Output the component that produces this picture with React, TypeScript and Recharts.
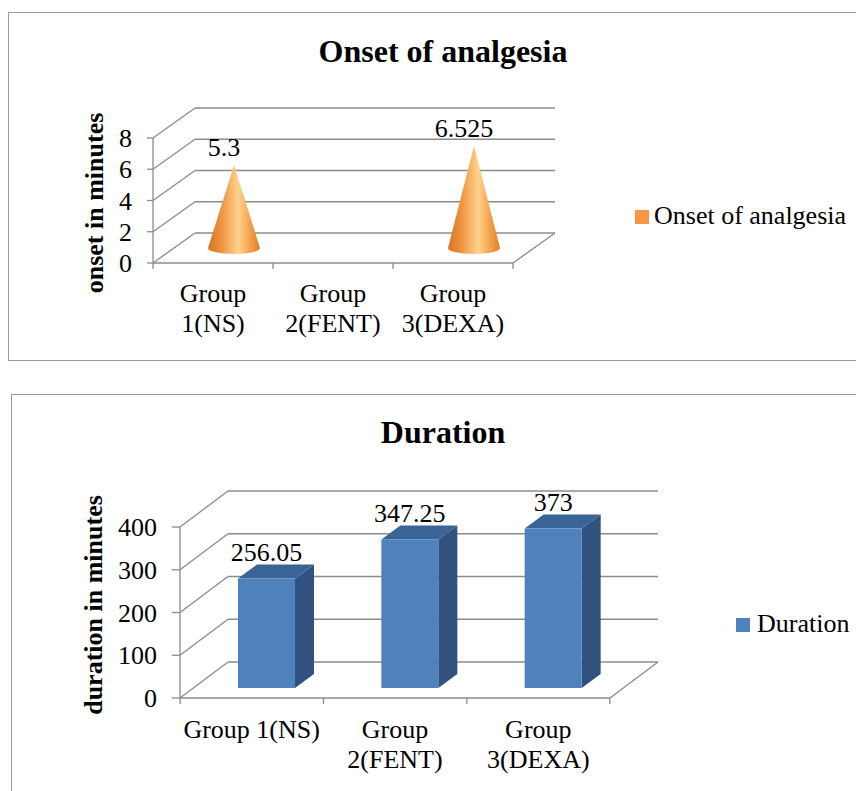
import { BarChart, Bar, XAxis, YAxis, CartesianGrid, LabelList } from 'recharts';

const groups = ['Group 1(NS)', 'Group 2(FENT)', 'Group 3(DEXA)'];
const onsetValues = [5.3, null, 6.525];
const durationValues = [256.05, 347.25, 373];
const onsetTicks = [0, 2, 4, 6, 8];
const durationTicks = [0, 100, 200, 300, 400];

const onsetData = groups.map((g, i) => ({ group: g, value: onsetValues[i] }));
const durationData = groups.map((g, i) => ({ group: g, value: durationValues[i] }));

const FONT = "'Liberation Serif', 'Times New Roman', serif";
const GRID = '#8c8c8c';

let ctx: CanvasRenderingContext2D | null = null;
function textWidth(s: string) {
  if (!ctx) ctx = document.createElement('canvas').getContext('2d');
  if (!ctx) return s.length * 12;
  ctx.font = `26px ${FONT}`;
  return ctx.measureText(s).width;
}

function wrapLabel(label: string, max: number) {
  if (textWidth(label) <= max) return [label];
  const i = label.indexOf(' ');
  return [label.slice(0, i), label.slice(i + 1)];
}

// back wall + side wall lines, drawn from the y tick positions
function wallLines(dx: number, dy: number, floorY: number) {
  return (p: any) => {
    const { x1, y1, x2, index } = p;
    return (
      <g key={`wall-${index}`}>
        <line x1={x1} y1={y1} x2={x1 + dx} y2={y1 - dy} stroke={GRID} strokeWidth={1.3} />
        <line x1={x1 + dx} y1={y1 - dy} x2={x2 + dx} y2={y1 - dy} stroke={GRID} strokeWidth={1.3} />
        {Math.abs(y1 - floorY) < 1 && (
          <line x1={x2} y1={y1} x2={x2 + dx} y2={y1 - dy} stroke={GRID} strokeWidth={1.3} />
        )}
      </g>
    );
  };
}

function CategoryTick(props: any) {
  const { x, y, payload, index, band, last, base } = props;
  const lines = wrapLabel(payload.value, band - 4);
  return (
    <g>
      <line x1={x - band / 2} y1={y} x2={x - band / 2} y2={y + 6} stroke={GRID} strokeWidth={1.3} />
      {index === last && (
        <line x1={x + band / 2} y1={y} x2={x + band / 2} y2={y + 6} stroke={GRID} strokeWidth={1.3} />
      )}
      <text textAnchor="middle" fontFamily={FONT} fontSize={26} fill="#000">
        {lines.map((l, i) => (
          <tspan key={i} x={x} y={y + base + i * 30}>{l}</tspan>
        ))}
      </text>
    </g>
  );
}

function Cone(props: any) {
  const { x, y, width, height } = props;
  if (!height || height <= 0) return null;
  const cx = x + width / 2 + 21;
  const baseY = y + height - 15;
  const apexY = y - 15;
  const rx = width / 2;
  const ry = 6;
  const d = `M${cx - rx},${baseY} L${cx},${apexY} L${cx + rx},${baseY} A${rx},${ry} 0 0 1 ${cx - rx},${baseY} Z`;
  return <path d={d} fill="url(#coneFill)" />;
}

function Box(props: any) {
  const { x, y, width, height } = props;
  if (!height || height <= 0) return null;
  const fx = x + 15;
  const fy = y - 10;
  const bx = 19;
  const by = 14;
  const side = `${fx + width},${fy} ${fx + width + bx},${fy - by} ${fx + width + bx},${fy + height - by} ${fx + width},${fy + height}`;
  const top = `${fx},${fy} ${fx + bx},${fy - by} ${fx + width + bx},${fy - by} ${fx + width},${fy}`;
  return (
    <g>
      <polygon points={side} fill="#31527F" />
      <polygon points={top} fill="#3B6496" />
      <rect x={fx} y={fy} width={width} height={height} fill="#4F81BD" />
    </g>
  );
}

function makeLabel(offX: number, offY: number) {
  return (props: any) => {
    const vb = props.viewBox ?? {};
    const x = props.x ?? vb.x;
    const y = props.y ?? vb.y;
    const width = props.width ?? vb.width;
    const value = props.value;
    if (value == null || x == null) return null;
    return (
      <text
        x={x + width / 2 + offX}
        y={y + offY}
        textAnchor="middle"
        dominantBaseline="central"
        fontFamily={FONT}
        fontSize={26}
        fill="#000"
      >
        {String(value)}
      </text>
    );
  };
}

function axisTitle(text: string, x: number, y: number) {
  return () => (
    <text
      x={x}
      y={y}
      transform={`rotate(-90 ${x} ${y})`}
      textAnchor="middle"
      dominantBaseline="central"
      fontFamily={FONT}
      fontSize={26}
      fontWeight="bold"
      fill="#000"
    >
      {text}
    </text>
  );
}

const frame = {
  position: 'absolute' as const,
  border: '1px solid #9a9a9a',
  background: '#fff',
  width: 880,
};

const titleStyle = {
  position: 'absolute' as const,
  left: 0,
  width: 870,
  textAlign: 'center' as const,
  fontFamily: FONT,
  fontSize: 32,
  fontWeight: 'bold' as const,
  lineHeight: 1,
  color: '#000',
};

const legendText = {
  position: 'absolute' as const,
  fontFamily: FONT,
  fontSize: 26,
  lineHeight: 1,
  color: '#000',
  whiteSpace: 'nowrap' as const,
};

export default function App() {
  return (
    <div style={{ position: 'relative', width: 856, height: 783, overflow: 'hidden' }}>
      <div style={{ ...frame, left: 0, top: 4, height: 347 }} />
      <div style={{ ...frame, left: 3, top: 386, height: 420 }} />

      <div style={{ ...titleStyle, top: 27 }}>Onset of analgesia</div>
      <div style={{ ...titleStyle, top: 408 }}>Duration</div>

      <div style={{ position: 'absolute', left: 627, top: 202, width: 14, height: 14, background: '#F79646' }} />
      <div style={{ ...legendText, left: 646, top: 195 }}>Onset of analgesia</div>
      <div style={{ position: 'absolute', left: 728, top: 610, width: 14, height: 14, background: '#4F81BD' }} />
      <div style={{ ...legendText, left: 749, top: 603 }}>Duration</div>

      <div style={{ position: 'absolute', left: 0, top: 0 }}>
        <BarChart
          width={856}
          height={356}
          data={onsetData}
          margin={{ top: 130, right: 351, left: 85, bottom: 41 }}
        >
          <defs>
            <linearGradient id="coneFill" x1="0" y1="0" x2="1" y2="0">
              <stop offset="0%" stopColor="#D8721E" />
              <stop offset="30%" stopColor="#F29A48" />
              <stop offset="58%" stopColor="#FFD38C" />
              <stop offset="80%" stopColor="#F6A24C" />
              <stop offset="100%" stopColor="#E27E27" />
            </linearGradient>
          </defs>
          <CartesianGrid vertical={false} horizontal={wallLines(42, 30, 255)} />
          <YAxis
            domain={[0, 8]}
            ticks={onsetTicks}
            interval={0}
            axisLine={{ stroke: GRID, strokeWidth: 1.3 }}
            tickLine={{ stroke: GRID, strokeWidth: 1.3 }}
            tickSize={6}
            tickMargin={15}
            tick={{ fontSize: 26, fill: '#000', fontFamily: FONT }}
            label={axisTitle('onset in minutes', 86, 195)}
          />
          <XAxis
            dataKey="group"
            height={60}
            interval={0}
            axisLine={{ stroke: GRID, strokeWidth: 1.3 }}
            tickLine={false}
            tickSize={0}
            tickMargin={0}
            tick={(p: any) => <CategoryTick {...p} band={120} last={2} base={39} />}
          />
          <Bar dataKey="value" barSize={52} shape={Cone} isAnimationActive={false}>
            <LabelList dataKey="value" content={makeLabel(11, -33)} />
          </Bar>
        </BarChart>
      </div>

      <div style={{ position: 'absolute', left: 0, top: 380 }}>
        <BarChart
          width={856}
          height={400}
          data={durationData}
          margin={{ top: 139, right: 254, left: 112, bottom: 30 }}
        >
          <CartesianGrid vertical={false} horizontal={wallLines(48, 36, 310)} />
          <YAxis
            domain={[0, 400]}
            ticks={durationTicks}
            interval={0}
            axisLine={{ stroke: GRID, strokeWidth: 1.3 }}
            tickLine={{ stroke: GRID, strokeWidth: 1.3 }}
            tickSize={8}
            tickMargin={15}
            tick={{ fontSize: 26, fill: '#000', fontFamily: FONT }}
            label={axisTitle('duration in minutes', 85, 217)}
          />
          <XAxis
            dataKey="group"
            height={60}
            interval={0}
            axisLine={{ stroke: GRID, strokeWidth: 1.3 }}
            tickLine={false}
            tickSize={0}
            tickMargin={0}
            tick={(p: any) => <CategoryTick {...p} band={143} last={2} base={40} />}
          />
          <Bar dataKey="value" barSize={57} shape={Box} isAnimationActive={false}>
            <LabelList dataKey="value" content={makeLabel(15, -36)} />
          </Bar>
        </BarChart>
      </div>
    </div>
  );
}
